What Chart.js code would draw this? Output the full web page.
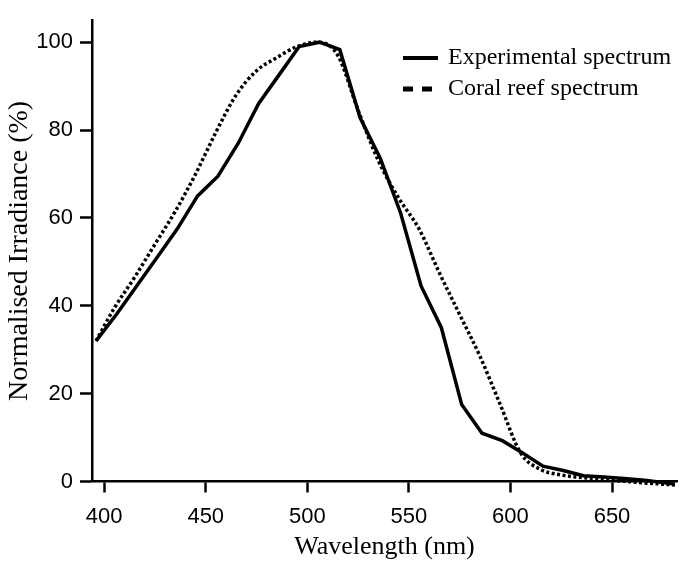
<!DOCTYPE html>
<html lang="en">
<head>
    <meta charset="UTF-8">
    <title>Normalised Irradiance</title>
    <style>
        body {
            margin: 0;
            background: #FFFFFF;
        }

        .chart-container {
            width: 684px;
            height: 563px;
            position: relative;
        }
    </style>
</head>
<body>
    <div class="chart-container">
        <canvas id="spectrumChart"></canvas>
    </div>

    <script src="https://cdn.jsdelivr.net/npm/chart.js"></script>
    <script>
        // values
        const expWavelength = [396, 406, 416, 426, 436, 446, 456, 466, 476, 486, 496, 506, 516, 526, 536, 546, 556, 566, 576, 586, 596, 606, 616, 626, 636, 646, 656, 666, 676, 681];
        const expIrradiance = [32, 38, 44.5, 51, 57.5, 65, 69.5, 77, 86, 92.5, 99, 100, 98.3, 82.8, 73.5, 61, 44.5, 35, 17.5, 11, 9.3, 6.5, 3.5, 2.5, 1.3, 1.0, 0.7, 0.3, -0.3, -0.6];

        const reefWavelength = [396, 405, 415, 425, 435, 445, 455, 465, 475, 485, 495, 505, 515, 525, 535, 545, 555, 565, 575, 585, 595, 605, 615, 625, 635, 645, 655, 665, 675, 681];
        const reefIrradiance = [32, 39.5, 46.5, 54, 61.5, 70, 79.5, 88, 93.5, 96.5, 99, 100, 97, 84.5, 73, 64.5, 57.5, 47.5, 38, 28.5, 17.5, 6.5, 2.7, 1.5, 0.9, 0.5, 0.1, -0.3, -0.6, -0.8];

        const xTickValues = [400, 450, 500, 550, 600, 650];
        const yTickValues = [0, 20, 40, 60, 80, 100];

        const toPoints = (xs, ys) => xs.map((x, i) => ({ x: x, y: ys[i] }));

        // legend drawn inside the plot, top right, like the original figure
        const insideLegend = {
            id: 'insideLegend',
            afterDraw(chart) {
                const ctx = chart.ctx;
                const rows = [
                    { y: 58, dash: [], width: 4 },
                    { y: 89, dash: [10, 9], width: 5 }
                ];
                ctx.save();
                ctx.font = '24px "Liberation Serif", "Times New Roman", serif';
                ctx.fillStyle = '#000';
                ctx.textBaseline = 'middle';
                chart.data.datasets.forEach((ds, i) => {
                    const r = rows[i];
                    ctx.beginPath();
                    ctx.setLineDash(r.dash);
                    ctx.lineWidth = r.width;
                    ctx.strokeStyle = '#000';
                    ctx.moveTo(403, r.y);
                    ctx.lineTo(438, r.y);
                    ctx.stroke();
                    ctx.fillText(ds.label, 448, r.y);
                });
                ctx.restore();
            }
        };

        function renderChart() {
            const ctx = document.getElementById('spectrumChart').getContext('2d');
            new Chart(ctx, {
                type: 'line',
                data: {
                    datasets: [{
                        label: 'Experimental spectrum',
                        data: toPoints(expWavelength, expIrradiance),
                        borderColor: '#000',
                        borderWidth: 3.5,
                        pointRadius: 0,
                        tension: 0,
                        clip: false
                    }, {
                        label: 'Coral reef spectrum',
                        data: toPoints(reefWavelength, reefIrradiance),
                        borderColor: '#000',
                        borderWidth: 3.5,
                        borderDash: [3, 2.5],
                        pointRadius: 0,
                        cubicInterpolationMode: 'monotone',
                        clip: false
                    }]
                },
                options: {
                    responsive: true,
                    maintainAspectRatio: false,
                    animation: false,
                    layout: {
                        padding: { top: 13, right: 7, left: 0, bottom: 0 }
                    },
                    plugins: {
                        legend: { display: false },
                        tooltip: { enabled: false }
                    },
                    scales: {
                        x: {
                            type: 'linear',
                            min: 394,
                            max: 682,
                            afterBuildTicks: s => { s.ticks = xTickValues.map(v => ({ value: v })); },
                            afterFit: s => { s.height = 81.5; },
                            grid: {
                                drawOnChartArea: false,
                                tickLength: 11,
                                tickWidth: 2.5,
                                tickColor: '#000'
                            },
                            border: { color: '#000', width: 2.5 },
                            ticks: {
                                color: '#000',
                                padding: 11,
                                maxRotation: 0,
                                font: { family: '"Liberation Sans", Arial, sans-serif', size: 22 }
                            },
                            title: {
                                display: true,
                                text: 'Wavelength (nm)',
                                color: '#000',
                                padding: 0,
                                font: { family: '"Liberation Serif", "Times New Roman", serif', size: 26 }
                            }
                        },
                        y: {
                            min: 0,
                            max: 105,
                            afterBuildTicks: s => { s.ticks = yTickValues.map(v => ({ value: v })); },
                            afterFit: s => { s.width = 92; },
                            grid: {
                                drawOnChartArea: false,
                                tickLength: 12,
                                tickWidth: 2.5,
                                tickColor: '#000'
                            },
                            border: { color: '#000', width: 2.5 },
                            ticks: {
                                color: '#000',
                                padding: 7,
                                font: { family: '"Liberation Sans", Arial, sans-serif', size: 22 }
                            },
                            title: {
                                display: true,
                                text: 'Normalised Irradiance (%)',
                                color: '#000',
                                padding: { top: 3, bottom: 0 },
                                font: { family: '"Liberation Serif", "Times New Roman", serif', size: 28 }
                            }
                        }
                    }
                },
                plugins: [insideLegend]
            });
        }

        renderChart();
    </script>
</body>
</html>
